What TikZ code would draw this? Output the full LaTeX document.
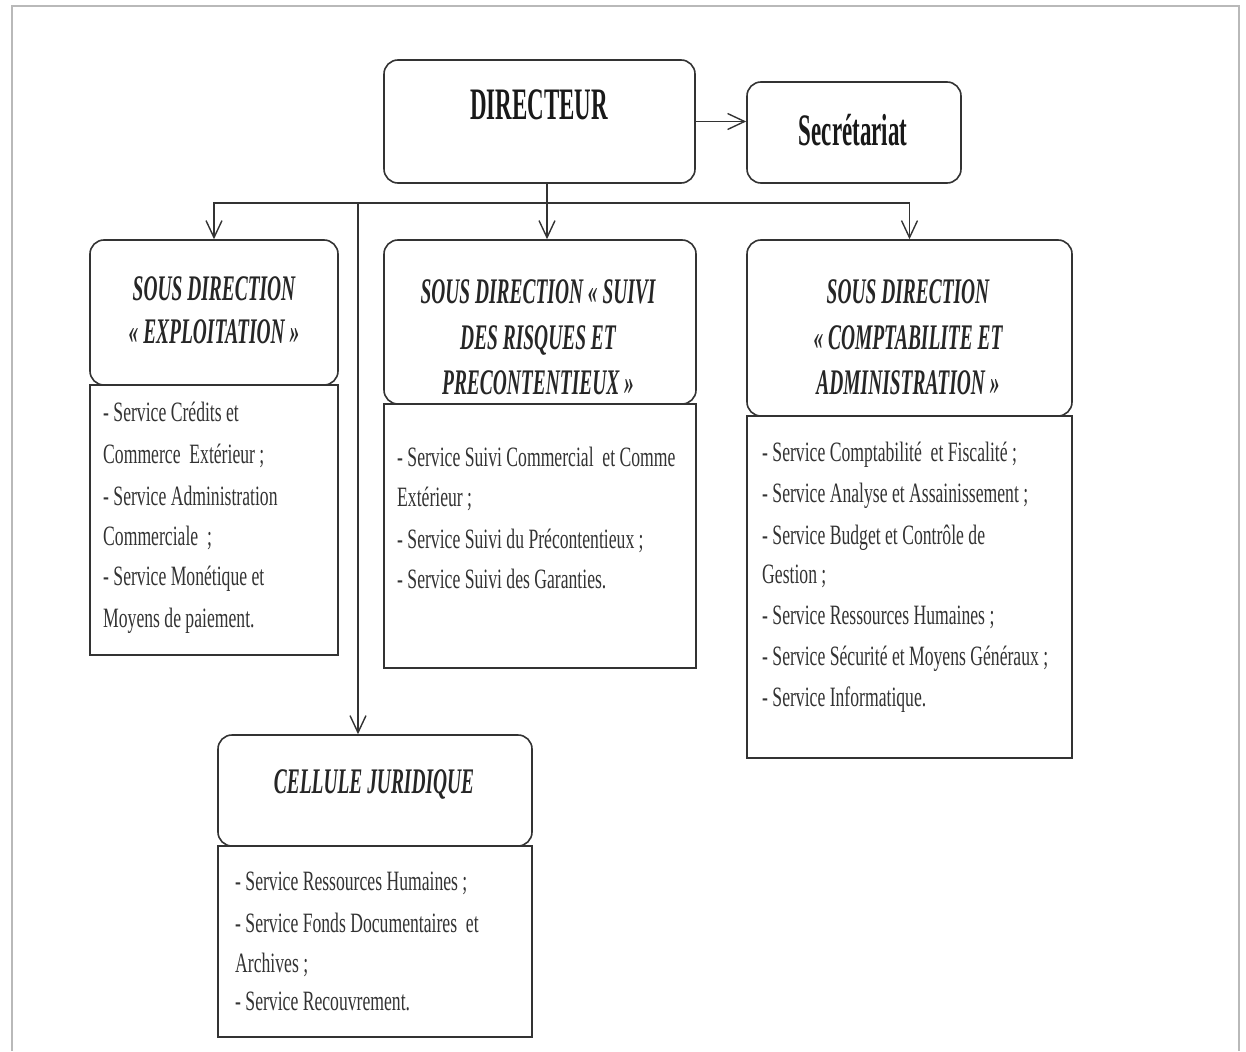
\documentclass[tikz,border=0pt]{standalone}
\usepackage{fontspec}
\setmainfont{Liberation Serif}
\newfontfamily\bodyf{Liberation Serif}[FakeStretch=0.63]
\newfontfamily\hdf{Liberation Serif}[FakeStretch=0.54]
\newfontfamily\titf{Liberation Serif}[FakeStretch=0.51]
\usetikzlibrary{arrows.meta}
\begin{document}
\begin{tikzpicture}[x=1pt,y=-1pt,
  box/.style={draw=black!80, line width=1.6pt, inner sep=0pt, fill=white},
  hbox/.style={box, rounded corners=14pt},
  bbox/.style={box},
  arr/.style={draw=black!80, line width=1.4pt, -{Straight Barb[length=17pt,width=16pt,line width=1.4pt]}},
  ttl/.style={font=\titf\bfseries\fontsize{45}{54}\selectfont, inner sep=0pt, anchor=base, text=black!90},
  hd/.style={font=\hdf\bfseries\itshape\fontsize{36}{44}\selectfont, inner sep=0pt, anchor=base, text=black!85},
  bd/.style={font=\bodyf\fontsize{28}{40}\selectfont, inner sep=0pt, anchor=base west, text=black!80}]
\useasboundingbox (0,0) rectangle (1246,1051);
% outer frame
\draw[gray!55, line width=2.5pt] (12,1051) -- (12,6) -- (1239,6) -- (1239,1051);
% top boxes
\node[hbox, minimum width=311pt, minimum height=123pt] (dir) at (539.5,121.5) {};
\node[hbox, minimum width=214pt, minimum height=101pt] (sec) at (854,132.5) {};
\node[ttl] (dirt) at (539,120) {DIRECTEUR};
\node[ttl] (sect) at (853,146) {Secrétariat};
% sub-direction bodies
\node[bbox, minimum width=248pt, minimum height=270pt] (sd1b) at (214,520) {};
\node[bbox, minimum width=312pt, minimum height=264pt] (sd2b) at (540,536) {};
\node[bbox, minimum width=325pt, minimum height=342pt] (sd3b) at (909.5,587) {};
\node[bbox, minimum width=314pt, minimum height=191pt] (cjb) at (375,941.5) {};
% headers
\node[hbox, minimum width=248pt, minimum height=145pt] (sd1h) at (214,312.5) {};
\node[hbox, minimum width=312pt, minimum height=164pt] (sd2h) at (540,322) {};
\node[hbox, minimum width=325pt, minimum height=176pt] (sd3h) at (909.5,328) {};
\node[hbox, minimum width=314pt, minimum height=111pt] (cjh) at (375,790.5) {};
% header texts
\node[hd] (sd1t1) at (214,300) {SOUS DIRECTION};
\node[hd] (sd1t2) at (214,343) {« EXPLOITATION »};
\node[hd] (sd2t1) at (538,303) {SOUS DIRECTION « SUIVI};
\node[hd] (sd2t2) at (538,349) {DES RISQUES ET};
\node[hd] (sd2t3) at (538,394) {PRECONTENTIEUX »};
\node[hd] (sd3t1) at (908,303) {SOUS DIRECTION};
\node[hd] (sd3t2) at (908,349) {« COMPTABILITE ET};
\node[hd] (sd3t3) at (908,394) {ADMINISTRATION »};
\node[hd] (cjt1) at (374,793) {CELLULE JURIDIQUE};
% body texts
\foreach \y/\t [count=\i] in {421/{- Service Crédits et},
  463/{Commerce \ Extérieur ;}, 505/{- Service Administration},
  545/{Commerciale \ ;}, 585/{- Service Monétique et},
  627/{Moyens de paiement.}}
  \node[bd] (sd1l\i) at (103,\y) {\t};
\foreach \y/\t [count=\i] in {466/{- Service Suivi Commercial \ et Comme},
  506/{Extérieur ;}, 548/{- Service Suivi du Précontentieux ;},
  588/{- Service Suivi des Garanties.}}
  \node[bd] (sd2l\i) at (397,\y) {\t};
\foreach \y/\t [count=\i] in {461/{- Service Comptabilité \ et Fiscalité ;},
  502/{- Service Analyse et Assainissement ;},
  544/{- Service Budget et Contrôle de},
  583/{Gestion ;},
  624/{- Service Ressources Humaines ;},
  665/{- Service Sécurité et Moyens Généraux ;},
  706/{- Service Informatique.}}
  \node[bd] (sd3l\i) at (762,\y) {\t};
\foreach \y/\t [count=\i] in {890/{- Service Ressources Humaines ;},
  932/{- Service Fonds Documentaires \ et},
  972/{Archives ;}, 1010/{- Service Recouvrement.}}
  \node[bd] (cjl\i) at (235,\y) {\t};
% connectors
\coordinate (bus) at (547,203);
\coordinate (br) at (358,203);
\draw[draw=black!80, line width=1.4pt] (bus |- dir.south) -- (bus);
\draw[arr] (bus) -| (sd1h.north);
\draw[arr] (bus) -| (sd3h.north);
\draw[arr] (bus) -- (bus |- sd2h.north);
\draw[arr] (br) -- (br |- cjh.north);
\draw[arr] (dir.east) -- (dir.east -| sec.west);
\end{tikzpicture}
\end{document}
